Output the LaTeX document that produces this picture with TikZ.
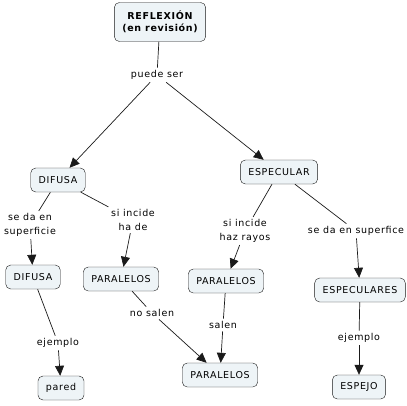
\documentclass[tikz,border=0pt]{standalone}
\usepackage{fontspec}
\setmainfont{DejaVu Sans}[LetterSpace=7]
\usetikzlibrary{arrows.meta}
\definecolor{boxfill}{HTML}{EEF4F7}
\definecolor{linecol}{HTML}{1A1A1A}

\tikzset{
  concept/.style={draw=linecol, fill=boxfill, rounded corners=5pt, inner xsep=8pt,
    minimum height=24pt, font=\fontsize{9.5}{11}\selectfont},
  linking/.style={inner sep=2.5pt, align=center, font=\fontsize{9.5}{13.5}\selectfont},
  link/.style={draw=linecol, line width=0.7pt},
  arr/.style={link, -{Triangle[length=10pt,width=9pt]}}
}

\begin{document}
\begin{tikzpicture}[x=1pt,y=-1pt]
  \useasboundingbox (0,0) rectangle (407,405);
  % concepts
  \node [concept, align=center, minimum width=88pt, minimum height=39pt,
    font=\fontsize{9.5}{12}\selectfont\bfseries] (reflexion) at (160,22) {REFLEXIÓN\\(en revisión)};
  \node [concept] (difusa) at (58,180) {DIFUSA};
  \node [concept] (especular) at (279,172) {ESPECULAR};
  \node [concept] (difusab) at (33,277) {DIFUSA};
  \node [concept] (paralelosa) at (121,279) {PARALELOS};
  \node [concept] (paralelosb) at (226,281) {PARALELOS};
  \node [concept] (especulares) at (360,290) {ESPECULARES};
  \node [concept] (paralelosc) at (220,375) {PARALELOS};
  \node [concept] (pared) at (61,388) {pared};
  \node [concept] (espejo) at (359,387) {ESPEJO};
  % linking phrases
  \node [linking] (puedeser) at (157,75) {puede ser};
  \node [linking] (sedaen) at (30,225) {se da en\\superficie};
  \node [linking] (hade) at (133,220) {si incide\\ha de};
  \node [linking] (hazrayos) at (245,231) {si incide\\haz rayos};
  \node [linking] (superfice) at (356,231) {se da en superfice};
  \node [linking] (nosalen) at (152,313) {no salen};
  \node [linking] (salen) at (223,325) {salen};
  \node [linking] (ejemploa) at (58,343) {ejemplo};
  \node [linking] (ejemplob) at (359,338) {ejemplo};
  % connectors
  \draw [link] (reflexion) -- (puedeser);
  \draw [arr] (puedeser) -- (difusa);
  \draw [arr] (puedeser) -- (especular);
  \draw [link] (difusa) -- (sedaen);
  \draw [arr] (sedaen) -- (difusab);
  \draw [link] (difusa) -- (hade);
  \draw [arr] (hade) -- (paralelosa);
  \draw [link] (especular) -- (hazrayos);
  \draw [arr] (hazrayos) -- (paralelosb);
  \draw [link] (especular) -- (superfice);
  \draw [arr] (superfice) -- (especulares);
  \draw [link] (difusab) -- (ejemploa);
  \draw [arr] (ejemploa) -- (pared);
  \draw [link] (paralelosa) -- (nosalen);
  \draw [arr] (nosalen) -- (paralelosc);
  \draw [link] (paralelosb) -- (salen);
  \draw [arr] (salen) -- (paralelosc);
  \draw [link] (especulares) -- (ejemplob);
  \draw [arr] (ejemplob) -- (espejo);
\end{tikzpicture}
\end{document}
